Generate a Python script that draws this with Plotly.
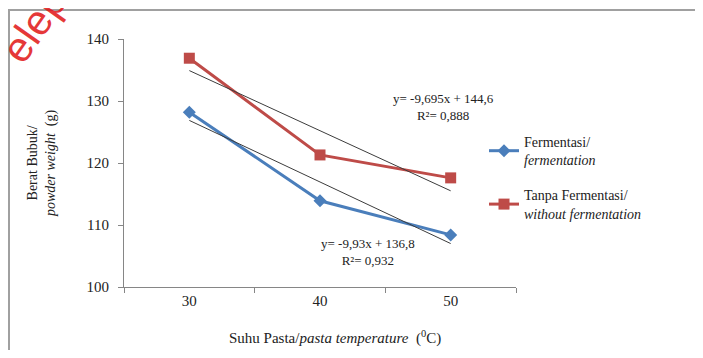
import plotly.graph_objects as go

# ---- data ----
temperatures = ["30", "40", "50"]
fermentasi = [128.2, 113.9, 108.4]
tanpa_fermentasi = [136.9, 121.3, 117.6]
# trend line coefficients (as printed on the chart), x = 1..3
trend_ferm = (-9.93, 136.8)
trend_tanpa = (-9.695, 144.6)
y_ticks = [100, 110, 120, 130, 140]

# page body margin offset (browser default 8px)
OFF = 8
W, H = 703 - 2 * OFF, 358 - 2 * OFF
# plot area in screen pixels
L, R, T, B = 124, 516, 39, 287


def px(x):
    return (x - L) / (R - L)


def py(y):
    return (B - y) / (B - T)


SERIF = "Liberation Serif"
BLUE = "#4a7ebb"
RED = "#be4b48"
TREND = "#3c3c3c"

fig = go.Figure()

fig.add_trace(go.Scatter(
    x=temperatures, y=fermentasi, mode="lines+markers",
    name="Fermentasi/<br><i>fermentation</i>", legendgroup="a",
    line=dict(color=BLUE, width=3),
    marker=dict(symbol="diamond", size=10, color=BLUE),
))
fig.add_trace(go.Scatter(
    x=temperatures, y=tanpa_fermentasi, mode="lines+markers",
    name="Tanpa Fermentasi/<br><i>without fermentation</i>", legendgroup="b",
    line=dict(color=RED, width=3),
    marker=dict(symbol="square", size=11, color=RED),
))

for (m, c) in (trend_tanpa, trend_ferm):
    xs = [temperatures[0], temperatures[-1]]
    ys = [m * 1 + c, m * len(temperatures) + c]
    fig.add_trace(go.Scatter(
        x=xs, y=ys, mode="lines", showlegend=False, hoverinfo="skip",
        line=dict(color=TREND, width=1),
    ))

annots = [
    dict(x=px(443), y=py(107), text="y= -9,695x + 144,6<br>R²= 0,888"),
    dict(x=px(368), y=py(252), text="y= -9,93x + 136,8<br>R²= 0,932"),
]
for a in annots:
    fig.add_annotation(xref="paper", yref="paper", x=a["x"], y=a["y"],
                       text=a["text"], showarrow=False,
                       font=dict(family=SERIF, size=13, color="#222"),
                       align="center", xanchor="center", yanchor="middle")

# axis titles
fig.add_annotation(xref="paper", yref="paper", x=px(335), y=py(337),
                   text="Suhu Pasta/<i>pasta temperature</i>  (<sup>0</sup>C)",
                   showarrow=False, font=dict(family=SERIF, size=15, color="#222"),
                   xanchor="center", yanchor="middle")
fig.add_annotation(xref="paper", yref="paper", x=px(42), y=py(163),
                   text="Berat Bubuk/<br><i>powder weight</i>  (g)",
                   textangle=-90, showarrow=False,
                   font=dict(family=SERIF, size=14, color="#222"),
                   xanchor="center", yanchor="middle")

# watermark
fig.add_annotation(xref="paper", yref="paper", x=px(34), y=py(26),
                   text="elep", textangle=-55, showarrow=False,
                   font=dict(family="Liberation Sans", size=42, color="rgba(225,20,20,0.85)"),
                   xanchor="center", yanchor="middle")

# frame lines (left and top)
fig.add_shape(type="line", xref="paper", yref="paper",
              x0=px(9), x1=px(9), y0=py(10), y1=py(360),
              line=dict(color="#a0a0a0", width=2))
fig.add_shape(type="line", xref="paper", yref="paper",
              x0=px(8), x1=px(702), y0=py(10), y1=py(10),
              line=dict(color="#a0a0a0", width=2))

fig.update_layout(
    width=W, height=H,
    margin=dict(l=L - OFF, r=OFF + W - R, t=T - OFF, b=OFF + H - B, pad=0),
    paper_bgcolor="white", plot_bgcolor="white",
    font=dict(family=SERIF, size=14, color="#222"),
    showlegend=True,
    legend=dict(x=px(484), y=py(126), xanchor="left", yanchor="top",
                font=dict(family=SERIF, size=14, color="#222"),
                traceorder="grouped", tracegroupgap=14,
                bgcolor="rgba(0,0,0,0)"),
    xaxis=dict(type="category", range=[-0.5, 2.5], showgrid=False,
               showline=True, linecolor="#868686", linewidth=1,
               ticks="outside", ticklen=5, tickcolor="#868686",
               tickson="boundaries", zeroline=False,
               tickfont=dict(family=SERIF, size=15, color="#222")),
    yaxis=dict(range=[100, 140], tickvals=y_ticks, showgrid=False,
               showline=True, linecolor="#868686", linewidth=1,
               ticks="outside", ticklen=5, tickcolor="#868686",
               zeroline=False, ticklabelstandoff=6,
               tickfont=dict(family=SERIF, size=15, color="#222")),
)

fig.write_html("out.html")
